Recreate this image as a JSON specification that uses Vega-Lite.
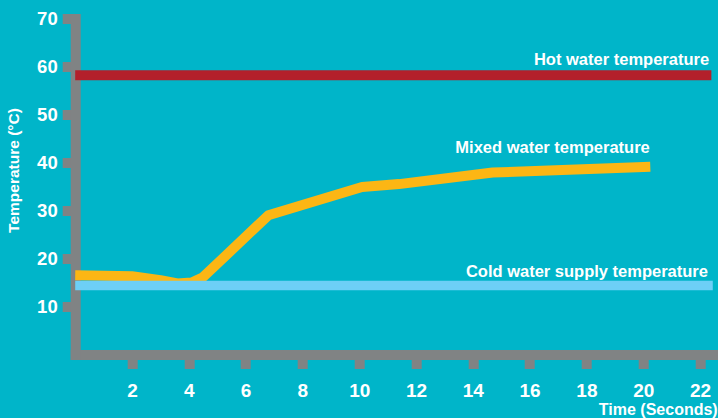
{
  "$schema": "https://vega.github.io/schema/vega-lite/v6.json",
  "description": "Hot, cold and mixed water temperature over time",
  "width": 639,
  "height": 336,
  "autosize": {"type": "none"},
  "padding": {"left": 75.2, "top": 18.5, "right": 3.8, "bottom": 63.5},
  "background": "#00b5c9",
  "datasets": {
    "mixed": [
      {"time": 0, "temp": 16.5},
      {"time": 2, "temp": 16.3},
      {"time": 3, "temp": 15.5},
      {"time": 3.6, "temp": 14.8},
      {"time": 4.1, "temp": 15.0},
      {"time": 4.5, "temp": 16.1},
      {"time": 6.8, "temp": 29.0},
      {"time": 10.1, "temp": 34.9},
      {"time": 11.4, "temp": 35.5},
      {"time": 14.7, "temp": 37.9},
      {"time": 20.25, "temp": 39.1}
    ],
    "supply": [
      {"series": "Hot", "time": 0, "end": 22.4, "temp": 58.2},
      {"series": "Cold", "time": 0, "end": 22.45, "temp": 14.4}
    ],
    "labels": [
      {"label": "Hot water temperature", "time": 22.32, "temp": 60.3},
      {"label": "Mixed water temperature", "time": 20.23, "temp": 41.9},
      {"label": "Cold water supply temperature", "time": 22.28, "temp": 16.15}
    ]
  },
  "layer": [
    {
      "data": {"name": "supply"},
      "transform": [{"filter": "datum.series === 'Hot'"}],
      "mark": {"type": "rule", "strokeWidth": 10, "color": "#b3202b"},
      "encoding": {
        "x": {
          "field": "time",
          "type": "quantitative",
          "scale": {"domain": [0, 22.5], "nice": false},
          "axis": {"title": "Time (Seconds)", "values": [2, 4, 6, 8, 10, 12, 14, 16, 18, 20, 22]}
        },
        "x2": {"field": "end"},
        "y": {
          "field": "temp",
          "type": "quantitative",
          "scale": {"domain": [0, 70], "nice": false},
          "axis": {"title": "Temperature (°C)", "values": [10, 20, 30, 40, 50, 60, 70]}
        }
      }
    },
    {
      "data": {"name": "mixed"},
      "mark": {"type": "line", "strokeWidth": 10, "color": "#fcb614", "strokeJoin": "round"},
      "encoding": {
        "x": {"field": "time", "type": "quantitative"},
        "y": {"field": "temp", "type": "quantitative"}
      }
    },
    {
      "data": {"name": "supply"},
      "transform": [{"filter": "datum.series === 'Cold'"}],
      "mark": {"type": "rule", "strokeWidth": 9.5, "color": "#6dcff6"},
      "encoding": {
        "x": {"field": "time", "type": "quantitative"},
        "x2": {"field": "end"},
        "y": {"field": "temp", "type": "quantitative"}
      }
    },
    {
      "data": {"name": "labels"},
      "mark": {
        "type": "text",
        "align": "right",
        "baseline": "alphabetic",
        "fontSize": 16.5,
        "fontWeight": "bold",
        "color": "white"
      },
      "encoding": {
        "x": {"field": "time", "type": "quantitative"},
        "y": {"field": "temp", "type": "quantitative"},
        "text": {"field": "label"}
      }
    }
  ],
  "config": {
    "font": "Liberation Sans",
    "view": {"stroke": null},
    "axis": {
      "zindex": 1,
      "grid": false,
      "domainColor": "#808384",
      "domainWidth": 10,
      "domainCap": "square",
      "tickColor": "#808384",
      "tickWidth": 10,
      "tickCap": "butt",
      "labelColor": "white",
      "labelFontWeight": "bold",
      "labelFlush": false,
      "labelOverlap": false,
      "titleColor": "white",
      "titleFontWeight": "bold"
    },
    "axisX": {
      "tickSize": 14,
      "labelPadding": 13,
      "labelFontSize": 19,
      "titleFontSize": 16,
      "titleX": 642,
      "titleY": 59.5,
      "titleAlign": "right",
      "titleBaseline": "alphabetic"
    },
    "axisY": {
      "tickSize": 13,
      "labelPadding": 5,
      "labelFontSize": 18.5,
      "titleFontSize": 15.5,
      "titleAngle": -90,
      "titleX": -57,
      "titleY": 151.5,
      "titleAlign": "center",
      "titleBaseline": "alphabetic"
    }
  }
}
